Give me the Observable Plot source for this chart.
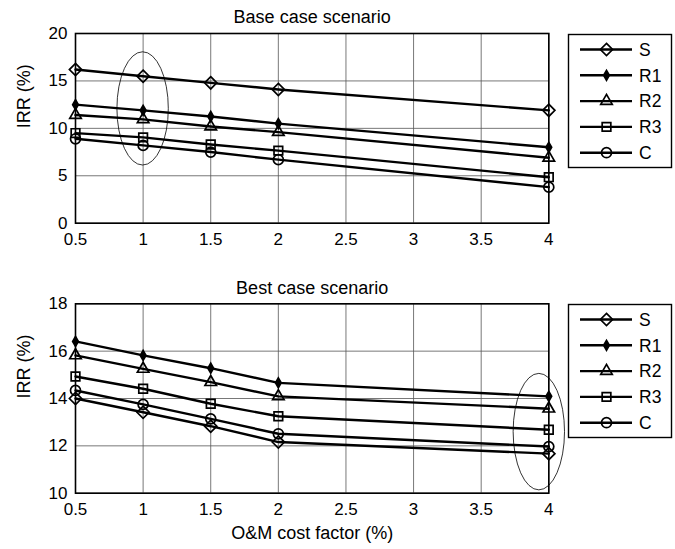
<!DOCTYPE html>
<html>
<head>
<meta charset="utf-8">
<script src="https://cdn.jsdelivr.net/npm/d3@7"></script>
<script src="https://cdn.jsdelivr.net/npm/@observablehq/plot@0.6"></script>
<style>
  body { margin: 0; background: white; }
  #wrap { position: relative; width: 675px; height: 549px; background: white; font-family: "Liberation Sans", Arial, sans-serif; }
  .panel { position: absolute; left: 0; width: 675px; }
  .legend { position: absolute; }
</style>
</head>
<body>
<div id="wrap"></div>
<script>
// ---- data ----
const omFactor = [0.5, 1, 1.5, 2, 4];
const seriesNames = ["S", "R1", "R2", "R3", "C"];
const xTicks = [0.5, 1, 1.5, 2, 2.5, 3, 3.5, 4];

const baseS  = [16.2, 15.5, 14.8, 14.1, 11.9];
const baseR1 = [12.5, 11.9, 11.25, 10.5, 8.0];
const baseR2 = [11.4, 10.95, 10.2, 9.6, 6.9];
const baseR3 = [9.5, 9.05, 8.3, 7.65, 4.85];
const baseC  = [8.9, 8.2, 7.5, 6.7, 3.8];
const baseYTicks = [0, 5, 10, 15, 20];

const bestS  = [14.0, 13.42, 12.83, 12.16, 11.67];
const bestR1 = [16.41, 15.82, 15.28, 14.66, 14.09];
const bestR2 = [15.82, 15.25, 14.69, 14.09, 13.57];
const bestR3 = [14.93, 14.41, 13.78, 13.25, 12.68];
const bestC  = [14.34, 13.75, 13.14, 12.51, 11.97];
const bestYTicks = [10, 12, 14, 16, 18];

// highlight ellipses (data units: center and radii)
const baseEllipse = [{cx: 1, cy: 12.05, rx: 0.19, ry: 5.97}];
const bestEllipse = [{cx: 3.93, cy: 12.58, rx: 0.19, ry: 2.46}];

// ---- styles per series ----
const markerStyle = {
  S:  {symbol: "diamond2", r: 5.5, fill: "none", stroke: "black"},
  R1: {symbol: "diamond", r: 3, fill: "black", stroke: "black"},
  R2: {symbol: "triangle2", r: 5.5, fill: "none", stroke: "black"},
  R3: {symbol: "square2", r: 5.5, fill: "none", stroke: "black"},
  C:  {symbol: "circle", r: 5, fill: "none", stroke: "black"}
};

const FONT = "'Liberation Sans', Arial, sans-serif";

function rowsOf(arrays) {
  const rows = [];
  seriesNames.forEach((name, i) => {
    arrays[i].forEach((v, j) => rows.push({x: omFactor[j], y: v, s: name}));
  });
  return rows;
}

function ellipseMark(ells) {
  return (index, scales) => {
    const sx = scales.x, sy = scales.y;
    const g = d3.create("svg:g");
    g.selectAll("ellipse").data(ells).join("ellipse")
      .attr("cx", d => sx(d.cx))
      .attr("cy", d => sy(d.cy))
      .attr("rx", d => Math.abs(sx(d.cx + d.rx) - sx(d.cx)))
      .attr("ry", d => Math.abs(sy(d.cy + d.ry) - sy(d.cy)))
      .attr("fill", "none")
      .attr("stroke", "black")
      .attr("stroke-width", 0.8);
    return g.node();
  };
}

function panel({title, arrays, yTicks, ellipses, height, marginTop, marginBottom, xLabel}) {
  const rows = rowsOf(arrays);
  const marks = [
    Plot.gridX(xTicks, {stroke: "#555", strokeOpacity: 1, strokeWidth: 0.8}),
    Plot.gridY(yTicks, {stroke: "#555", strokeOpacity: 1, strokeWidth: 0.8}),
    Plot.axisX(xTicks, {tickSize: 0, tickPadding: 9.5, tickFormat: d => String(d), fontSize: 17}),
    Plot.axisY(yTicks, {tickSize: 0, tickPadding: 8, fontSize: 17, label: null}),
    Plot.text(["IRR (%)"], {frameAnchor: "left", dx: -51, rotate: -90, fontSize: 18, lineAnchor: "middle"}),
    Plot.line(rows, {x: "x", y: "y", z: "s", stroke: "black", strokeWidth: 2.4}),
    ...seriesNames.map(name => Plot.dot(rows.filter(d => d.s === name), {x: "x", y: "y", ...markerStyle[name], strokeWidth: 1.7})),
    Plot.frame({stroke: "black", strokeWidth: 1.6}),
    Plot.text([title], {frameAnchor: "top", dy: -16, lineAnchor: "middle", fontSize: 18}),
    ellipseMark(ellipses)
  ];
  if (xLabel) marks.push(Plot.text([xLabel], {frameAnchor: "bottom", dy: 40, lineAnchor: "middle", fontSize: 18}));
  return Plot.plot({
    width: 675,
    height,
    marginLeft: 75,
    marginRight: 126.7,
    marginTop,
    marginBottom,
    x: {domain: [0.5, 4], label: null},
    y: {domain: [yTicks[0], yTicks[yTicks.length - 1]], label: null},
    style: {background: "white", color: "black", fontFamily: FONT, fontSize: "17px", overflow: "visible"},
    marks
  });
}

function legend(top) {
  const w = 104, h = 134;
  const svg = d3.create("svg").attr("width", w).attr("height", h)
    .attr("class", "legend")
    .style("left", "567.5px").style("top", top + "px").style("overflow", "visible");
  svg.append("rect").attr("x", 0.5).attr("y", 0.5).attr("width", w - 1).attr("height", h - 1)
    .attr("fill", "white").attr("stroke", "black").attr("stroke-width", 1.4);
  const symMap = {diamond2: d3.symbolDiamond2, diamond: d3.symbolDiamond, triangle2: d3.symbolTriangle2, square2: d3.symbolSquare2, circle: d3.symbolCircle};
  seriesNames.forEach((name, i) => {
    const y = 15.5 + i * 25.8;
    const st = markerStyle[name];
    svg.append("line").attr("x1", 12).attr("x2", 64).attr("y1", y).attr("y2", y).attr("stroke", "black").attr("stroke-width", 2.4);
    svg.append("path").attr("transform", `translate(38.5,${y})`)
      .attr("d", d3.symbol(symMap[st.symbol], Math.PI * st.r * st.r)())
      .attr("fill", st.fill).attr("stroke", st.stroke).attr("stroke-width", 1.7);
    svg.append("text").attr("x", 71).attr("y", y).attr("dy", "0.36em")
      .attr("font-size", 17.5).attr("font-family", FONT).text(name);
  });
  return svg.node();
}

const wrap = document.getElementById("wrap");

const p1 = document.createElement("div");
p1.className = "panel"; p1.style.top = "0px";
p1.appendChild(panel({title: "Base case scenario", arrays: [baseS, baseR1, baseR2, baseR3, baseC], yTicks: baseYTicks, ellipses: baseEllipse, height: 270, marginTop: 33, marginBottom: 47.3}));
wrap.appendChild(p1);
wrap.appendChild(legend(33.5));

const p2 = document.createElement("div");
p2.className = "panel"; p2.style.top = "270px";
p2.appendChild(panel({title: "Best case scenario", arrays: [bestS, bestR1, bestR2, bestR3, bestC], yTicks: bestYTicks, ellipses: bestEllipse, height: 279, marginTop: 33.3, marginBottom: 56.3, xLabel: "O&M cost factor (%)"}));
wrap.appendChild(p2);
wrap.appendChild(legend(303.5));
</script>
</body>
</html>
